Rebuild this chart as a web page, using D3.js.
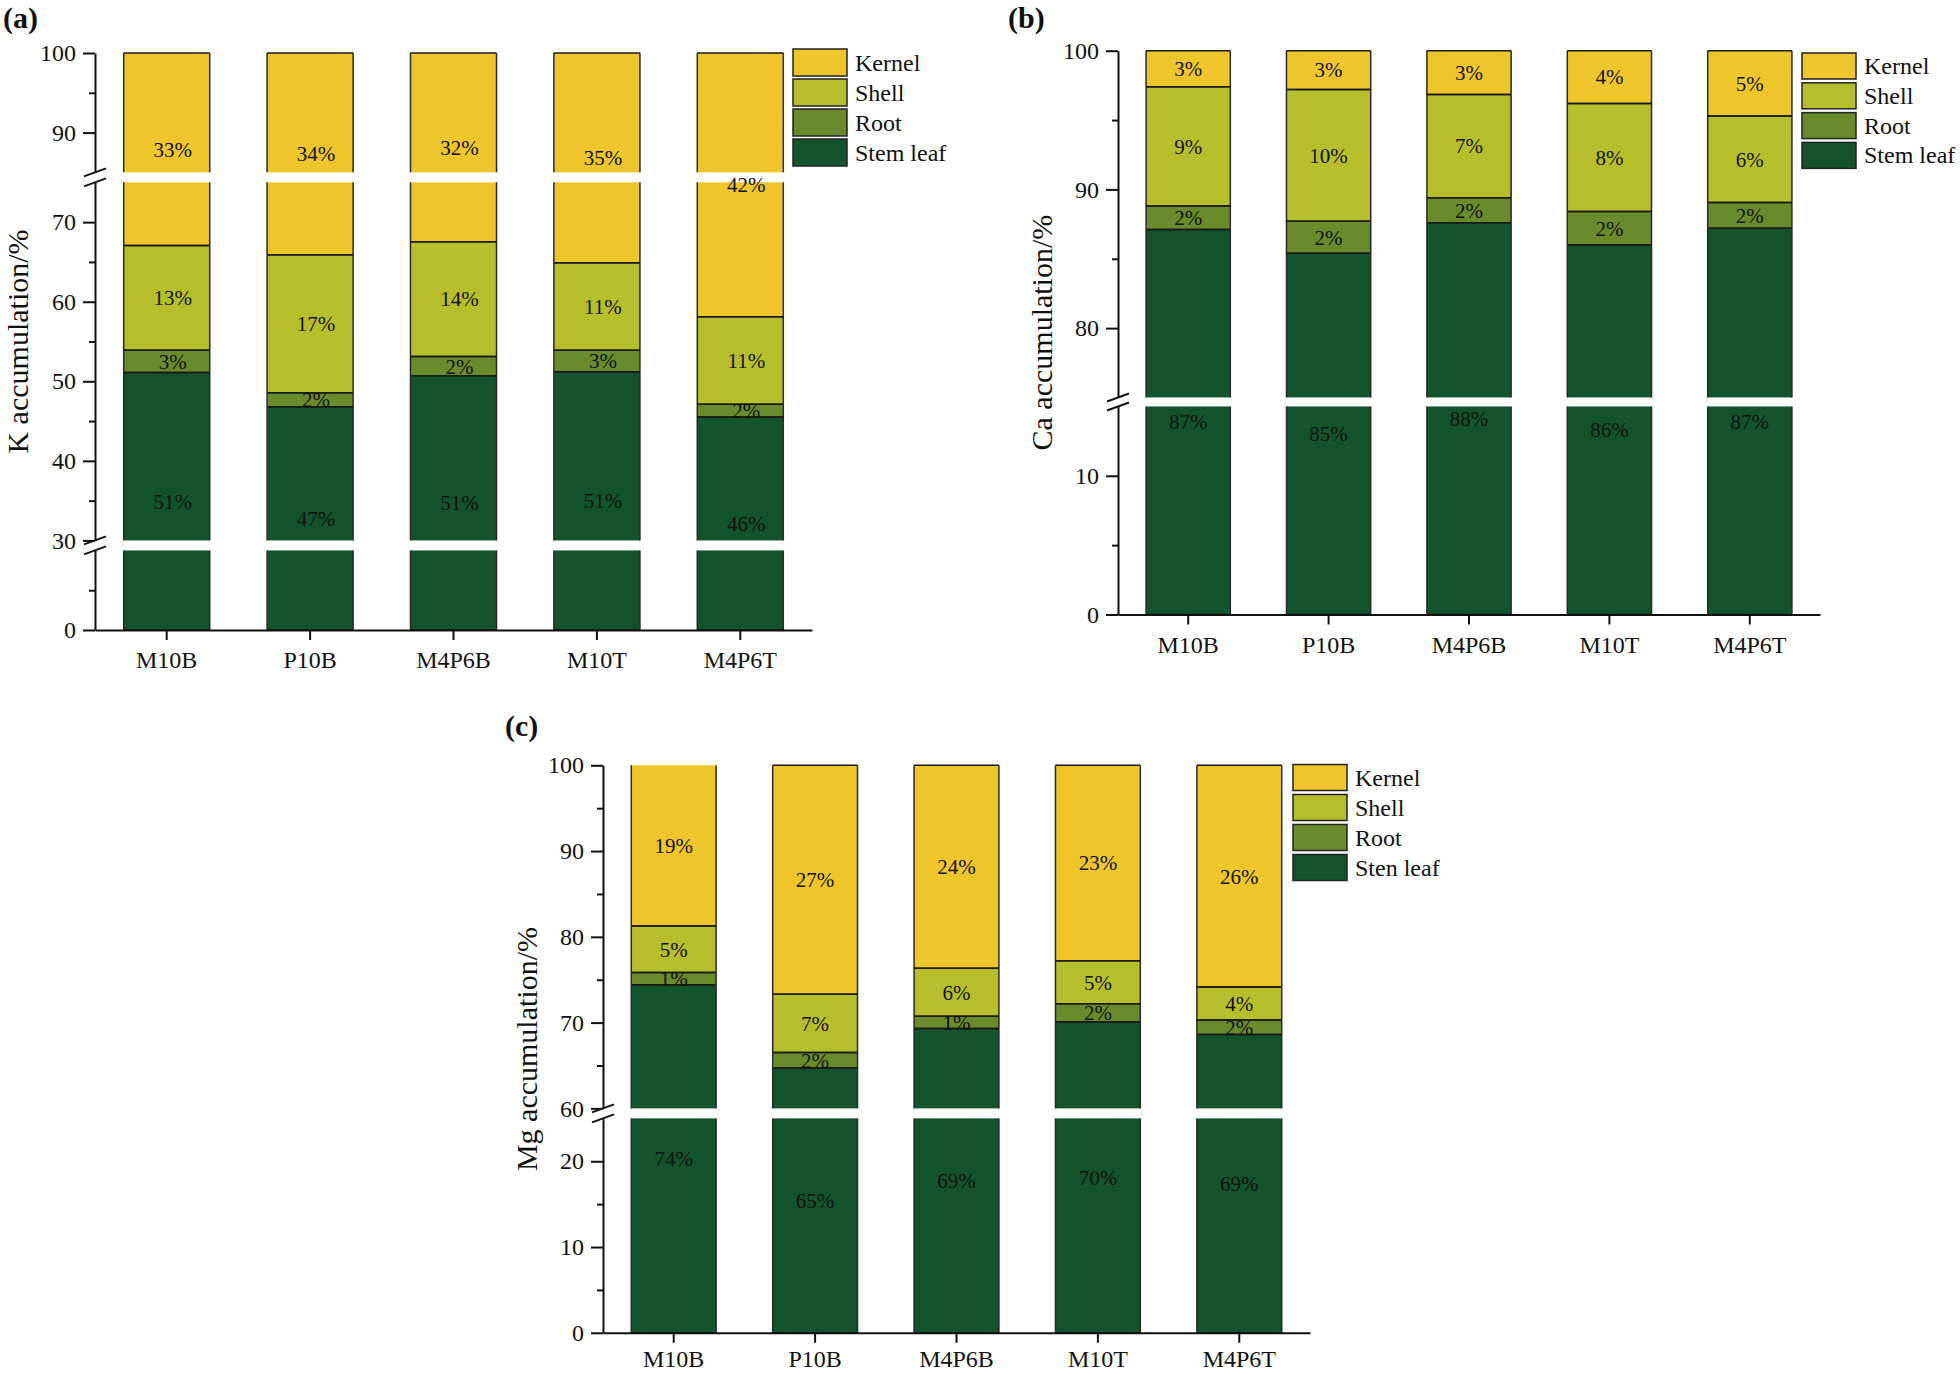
<!DOCTYPE html>
<html>
<head>
<meta charset="utf-8">
<script src="https://cdn.jsdelivr.net/npm/d3@7"></script>
<style>
  html, body { margin: 0; padding: 0; background: #fff; }
  svg { display: block; }
  text { font-family: "Liberation Serif", "Times New Roman", serif; fill: #111; }
</style>
</head>
<body>
<svg id="chart" width="1960" height="1374"></svg>
<script>
// ---------------- DATA ----------------
const categories = ["M10B", "P10B", "M4P6B", "M10T", "M4P6T"];
const partsBottomUp = ["Stem leaf", "Root", "Shell", "Kernel"];
const legendA = ["Kernel", "Shell", "Root", "Stem leaf"];
const legendB = ["Kernel", "Shell", "Root", "Stem leaf"];
const legendC = ["Kernel", "Shell", "Root", "Sten leaf"];

// (a) K accumulation (%)
const kStem   = [51.1, 46.8, 50.7, 51.2, 45.5];
const kRoot   = [2.8, 1.75, 2.4, 2.7, 1.6];
const kShell  = [13.15, 17.35, 14.45, 11.0, 11.0];
const kKernel = [32.95, 34.1, 32.45, 35.1, 41.9];

// (b) Ca accumulation (%)
const caStem   = [87.1, 85.4, 87.6, 86.0, 87.2];
const caRoot   = [1.7, 2.3, 1.8, 2.4, 1.85];
const caShell  = [8.6, 9.5, 7.45, 7.8, 6.25];
const caKernel = [2.6, 2.8, 3.15, 3.8, 4.7];

// (c) Mg accumulation (%)
const mgStem   = [74.4, 64.7, 69.3, 70.1, 68.6];
const mgRoot   = [1.45, 1.8, 1.45, 2.1, 1.7];
const mgShell  = [5.4, 6.8, 5.6, 5.0, 3.85];
const mgKernel = [18.75, 26.7, 23.65, 22.8, 25.85];

// axis tick values
const ticksA = [0, 30, 40, 50, 60, 70, 90, 100];
const minorA = [5, 35, 45, 55, 65, 95];
const ticksB = [0, 10, 80, 90, 100];
const minorB = [5, 85, 95];
const ticksC = [0, 10, 20, 60, 70, 80, 90, 100];
const minorC = [5, 15, 65, 75, 85, 95];

const colors = {"Kernel": "#EEC62B", "Shell": "#B7BE2B", "Root": "#6A8B2B", "Stem leaf": "#13542D"};

// ---------------- DRAW ----------------
const svg = d3.select("#chart");

function buildRows(stem, root, shell, kernel) {
  return categories.map((c, i) => ({
    cat: c, "Stem leaf": stem[i], "Root": root[i], "Shell": shell[i], "Kernel": kernel[i]
  }));
}

function panel(cfg) {
  const g = svg.append("g");
  const rows = buildRows(...cfg.series);
  const stacked = d3.stack().keys(partsBottomUp)(rows);

  // broken y scale: one linear scale per segment
  let cur = cfg.yBase;
  const scales = cfg.segs.map(([a, b]) => {
    const s = d3.scaleLinear().domain([a, b]).range([cur, cur - (b - a) * cfg.k]);
    cur = cur - (b - a) * cfg.k - cfg.gap;
    return s;
  });
  const yPix = v => {
    for (let i = 0; i < scales.length; i++) {
      const [a, b] = scales[i].domain();
      if (v >= a && v <= b) return scales[i](v);
      if (i < scales.length - 1) {
        const na = scales[i + 1].domain()[0];
        if (v > b && v < na) return (v - b) < (na - v) ? scales[i](b) : scales[i + 1](na);
      }
    }
    return scales[scales.length - 1](v);
  };

  const x = d3.scaleBand().domain(categories).range([cfg.axisX, cfg.xRight])
    .paddingInner(0.4).paddingOuter(0.2);
  const bw = x.bandwidth();

  // bars
  stacked.forEach(layer => {
    const key = layer.key;
    layer.forEach(d => {
      const lo = d[0], hi = d[1], cat = d.data.cat;
      const x0 = x(cat);
      scales.forEach(s => {
        const [a, b] = s.domain();
        const l = Math.max(lo, a), h = Math.min(hi, b);
        if (h > l) {
          const yt = s(h), yb = s(l);
          g.append("rect").attr("x", x0).attr("y", yt).attr("width", bw).attr("height", yb - yt)
            .attr("fill", colors[key]);
          g.append("path").attr("d", `M${x0},${yt}V${yb}M${x0 + bw},${yt}V${yb}`)
            .attr("stroke", "#2a2a2a").attr("stroke-width", 1.5).attr("fill", "none");
        }
      });
    });
  });
  // horizontal boundaries (stack boundaries, top and bottom)
  stacked.forEach(layer => {
    layer.forEach(d => {
      [d[0], d[1]].forEach(v => {
        const inSeg = scales.some(s => v >= s.domain()[0] && v <= s.domain()[1]);
        if (!inSeg) return;
        const yy = yPix(v);
        g.append("line").attr("x1", x(d.data.cat)).attr("x2", x(d.data.cat) + bw)
          .attr("y1", yy).attr("y2", yy).attr("stroke", "#1a1a1a").attr("stroke-width", 1.5);
      });
    });
  });

  // value labels at pixel centre of each stacked piece
  stacked.forEach(layer => {
    layer.forEach(d => {
      const yc = (yPix(d[0]) + yPix(d[1])) / 2;
      g.append("text")
        .attr("x", x(d.data.cat) + bw / 2 + cfg.labelDx)
        .attr("y", yc).attr("dy", "0.35em")
        .attr("text-anchor", "middle").attr("font-size", 21)
        .text(Math.round(d[1] - d[0]) + "%");
    });
  });

  // y axis segments
  scales.forEach(s => {
    const [a, b] = s.domain();
    const major = cfg.ticks.filter(t => t >= a && t <= b);
    const minor = cfg.minor.filter(t => t > a && t < b);
    const ax = g.append("g").attr("transform", `translate(${cfg.axisX},0)`)
      .call(d3.axisLeft(s).tickValues(major).tickSize(12).tickSizeOuter(0).tickPadding(7)
        .tickFormat(d3.format("d")));
    ax.selectAll("text").attr("font-size", 24).style("font-family", "'Liberation Serif','Times New Roman',serif").attr("fill", "#111");
    ax.selectAll("path,line").attr("stroke", "#111").attr("stroke-width", 2);
    const axm = g.append("g").attr("transform", `translate(${cfg.axisX},0)`)
      .call(d3.axisLeft(s).tickValues(minor).tickSize(6).tickSizeOuter(0).tickFormat(""));
    axm.select(".domain").remove();
    axm.selectAll("line").attr("stroke", "#111").attr("stroke-width", 2);
  });

  // break marks
  for (let i = 0; i < scales.length - 1; i++) {
    const yBot = scales[i](scales[i].domain()[1]);
    const yTop = scales[i + 1](scales[i + 1].domain()[0]);
    [yTop, yBot].forEach(yy => {
      g.append("line").attr("x1", cfg.axisX - 11).attr("y1", yy + 4)
        .attr("x2", cfg.axisX + 11).attr("y2", yy - 4)
        .attr("stroke", "#111").attr("stroke-width", 2);
    });
  }

  // x axis
  const xa = g.append("g").attr("transform", `translate(0,${cfg.yBase})`)
    .call(d3.axisBottom(x).tickSize(10).tickSizeOuter(0).tickPadding(cfg.xPad));
  xa.selectAll("text").attr("font-size", 24).style("font-family", "'Liberation Serif','Times New Roman',serif").attr("fill", "#111");
  xa.selectAll("path,line").attr("stroke", "#111").attr("stroke-width", 2);

  // y title
  const yMid = (cfg.yBase + yPix(100)) / 2;
  g.append("text").attr("transform", `translate(${cfg.titleX},${yMid}) rotate(-90)`)
    .attr("text-anchor", "middle").attr("font-size", 30).text(cfg.title);

  // panel tag
  g.append("text").attr("x", cfg.tagX).attr("y", cfg.tagY)
    .attr("font-size", 30).attr("font-weight", "bold").text(cfg.tag);

  // legend
  cfg.legend.forEach((name, i) => {
    const key = partsBottomUp[3 - i];
    const yy = cfg.legY + i * cfg.legPitch;
    g.append("rect").attr("x", cfg.legX).attr("y", yy).attr("width", 54).attr("height", cfg.legH)
      .attr("fill", colors[key]).attr("stroke", "#222").attr("stroke-width", 1.5);
    g.append("text").attr("x", cfg.legX + 62).attr("y", yy + cfg.legH / 2 + 8)
      .attr("font-size", 24).text(name);
  });
}

panel({
  series: [kStem, kRoot, kShell, kKernel],
  axisX: 95, xRight: 812, yBase: 630, k: 7.957, gap: 10,
  segs: [[0, 10], [30, 75], [85, 100]], ticks: ticksA, minor: minorA, xPad: 11,
  labelDx: 6, title: "K accumulation/%", titleX: 28, tag: "(a)", tagX: 3, tagY: 28,
  legend: legendA, legX: 793, legY: 49, legH: 27, legPitch: 30
});

panel({
  series: [caStem, caRoot, caShell, caKernel],
  axisX: 1118, xRight: 1820, yBase: 614.5, k: 13.87, gap: 9,
  segs: [[0, 15], [75, 100]], ticks: ticksB, minor: minorB, xPad: 11,
  labelDx: 0, title: "Ca accumulation/%", titleX: 1052, tag: "(b)", tagX: 1008, tagY: 28,
  legend: legendB, legX: 1802, legY: 53, legH: 26, legPitch: 29.8
});

panel({
  series: [mgStem, mgRoot, mgShell, mgKernel],
  axisX: 603, xRight: 1310, yBase: 1332.8, k: 8.577, gap: 10,
  segs: [[0, 25], [60, 100]], ticks: ticksC, minor: minorC, xPad: 7,
  labelDx: 0, title: "Mg accumulation/%", titleX: 537, tag: "(c)", tagX: 505, tagY: 736,
  legend: legendC, legX: 1293, legY: 764.5, legH: 26, legPitch: 30
});
</script>
</body>
</html>
